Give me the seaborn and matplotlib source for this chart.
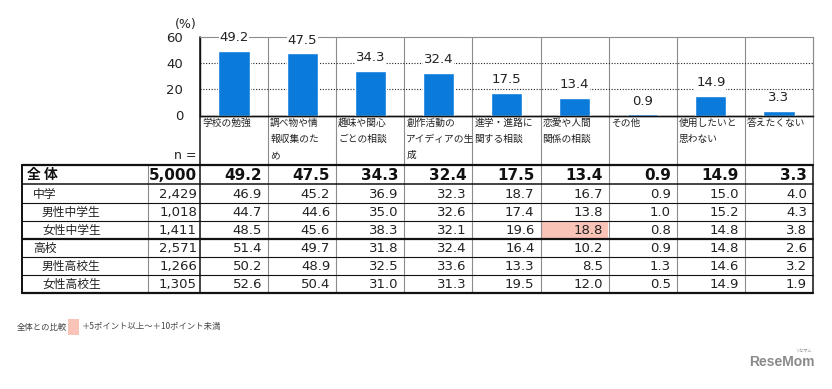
import numpy as np
import pandas as pd

import matplotlib
matplotlib.use("Agg")
import matplotlib.pyplot as plt
import seaborn as sns

# ---- data ----
categories = ["学校の勉強", "調べ物や情\n報収集のた\nめ", "趣味や関心\nごとの相談",
              "創作活動の\nアイディアの生\n成", "進学・進路に\n関する相談", "恋愛や人間\n関係の相談",
              "その他", "使用したいと\n思わない", "答えたくない"]
overall = [49.2, 47.5, 34.3, 32.4, 17.5, 13.4, 0.9, 14.9, 3.3]
overall_n = "5,000"

group_labels = ["中学", "男性中学生", "女性中学生", "高校", "男性高校生", "女性高校生"]
group_indent = [1, 2, 2, 1, 2, 2]
group_n = ["2,429", "1,018", "1,411", "2,571", "1,266", "1,305"]
group_values = [
    [46.9, 45.2, 36.9, 32.3, 18.7, 16.7, 0.9, 15.0, 4.0],
    [44.7, 44.6, 35.0, 32.6, 17.4, 13.8, 1.0, 15.2, 4.3],
    [48.5, 45.6, 38.3, 32.1, 19.6, 18.8, 0.8, 14.8, 3.8],
    [51.4, 49.7, 31.8, 32.4, 16.4, 10.2, 0.9, 14.8, 2.6],
    [50.2, 48.9, 32.5, 33.6, 13.3, 8.5, 1.3, 14.6, 3.2],
    [52.6, 50.4, 31.0, 31.3, 19.5, 12.0, 0.5, 14.9, 1.9],
]
yticks = [0, 20, 40, 60]

BLUE = "#0a7bdb"
PINK = "#f9c3b8"
JP = ["Noto Sans CJK JP"]

sns.set_theme(style="white")
plt.rcParams["font.family"] = ["DejaVu Sans", "Noto Sans CJK JP"]

W, H = 832, 389
fig = plt.figure(figsize=(W / 100, H / 100), dpi=100)

# layout in pixels
x_tab, x_lab, x_n, x_end = 22, 148, 200, 813
colw = (x_end - x_n) / len(categories)
col_left = [x_n + i * colw for i in range(len(categories))]
y_top, y_base, y_tab = 37, 115.5, 165
row_lines = [165, 184, 203, 221, 239, 257, 275, 293]

# overlay axes in pixel coordinates for the table
ov = fig.add_axes([0, 0, 1, 1])
ov.set_xlim(0, W)
ov.set_ylim(H, 0)
ov.axis("off")

# vertical separators
for xl in col_left[1:]:
    ov.plot([xl, xl], [y_top, row_lines[-1]], color="#8c8c8c", lw=0.8, zorder=1)
ov.plot([x_end, x_end], [y_top, y_tab], color="#8c8c8c", lw=0.8)
ov.plot([x_end, x_end], [y_tab, row_lines[-1]], color="#222222", lw=1.2)
ov.plot([x_n, x_n], [y_top, row_lines[-1]], color="#111111", lw=1.1)
ov.plot([x_lab, x_lab], [y_tab, row_lines[-1]], color="#8c8c8c", lw=0.8)
ov.plot([x_tab, x_tab], [y_tab, row_lines[-1]], color="#111111", lw=1.4)
ov.plot([x_n, x_end], [y_base, y_base], color="#111111", lw=1.0)

# highlight cells (+5 to +10 points vs overall)
for r, vals in enumerate(group_values):
    for c, v in enumerate(vals):
        d = v - overall[c]
        if 5 <= d < 10:
            ov.add_patch(plt.Rectangle((col_left[c] + 0.5, row_lines[r + 1]),
                                       colw - 1, row_lines[r + 2] - row_lines[r + 1],
                                       color=PINK, lw=0, zorder=0))

# horizontal lines
thick = {0, 4, 7}
for i, yl in enumerate(row_lines):
    lw = 1.6 if i in thick else (1.1 if i == 1 else 0.8)
    ov.plot([x_tab, x_end], [yl, yl], color="#111111", lw=lw)

# category labels
for xl, lab in zip(col_left, categories):
    ov.text(xl + 2, 118, lab, ha="left", va="top", fontsize=7, color="#222222",
            linespacing=1.75, family=JP)
ov.text(x_n - 3, 155, "n =", ha="right", va="center", fontsize=9, color="#222222")
ov.text(186, 24, "(%)", ha="center", va="center", fontsize=9, color="#222222")

# table rows
def cy(i):
    return (row_lines[i] + row_lines[i + 1]) / 2 + 0.5

ov.text(x_tab + 5, cy(0), "全 体", ha="left", va="center", fontsize=10,
        fontweight="bold", family=JP, color="#111111")
ov.text(x_n - 3, cy(0), overall_n, ha="right", va="center", fontsize=11,
        fontweight="bold", color="#111111")
for c, v in enumerate(overall):
    ov.text(col_left[c] + colw - 6, cy(0), f"{v:.1f}", ha="right", va="center",
            fontsize=11, fontweight="bold", color="#111111")

for r, (lab, ind, n, vals) in enumerate(zip(group_labels, group_indent, group_n, group_values)):
    ov.text(x_tab + 2 + ind * 9, cy(r + 1), lab, ha="left", va="center", fontsize=8.5,
            family=JP, color="#222222")
    ov.text(x_n - 3, cy(r + 1), n, ha="right", va="center", fontsize=9.5, color="#222222")
    for c, v in enumerate(vals):
        ov.text(col_left[c] + colw - 6, cy(r + 1), f"{v:.1f}", ha="right", va="center",
                fontsize=9.5, color="#222222")

# legend note
ov.text(17, 327, "全体との比較", ha="left", va="center", fontsize=6,
        family=JP, color="#444444")
ov.add_patch(plt.Rectangle((68, 319), 11, 16, color=PINK, lw=0))
ov.text(82, 327, "＋5ポイント以上～＋10ポイント未満", ha="left", va="center", fontsize=6,
        family=JP, color="#444444")

# watermark
ov.text(815, 362, "ReseMom", ha="right", va="center", fontsize=10, fontweight="bold",
        family=["Liberation Sans"], color="#8a8a8a")
ov.text(812, 351, "リセマム", ha="right", va="center", fontsize=3,
        family=JP, color="#8a8a8a")

# ---- bar chart ----
ax = fig.add_axes([x_n / W, 1 - y_base / H, (x_end - x_n) / W, (y_base - y_top) / H])
ax.patch.set_alpha(0)
df = pd.DataFrame({"cat": categories, "val": overall})
sns.barplot(data=df, x="cat", y="val", color=BLUE, width=0.46, saturation=1, ax=ax)
ax.set_xlim(-0.5, len(categories) - 0.5)
ax.set_ylim(yticks[0], yticks[-1])
ax.set_xticks([])
ax.set_yticks(yticks)
ax.set_yticklabels([str(t) for t in yticks], fontsize=9.5, color="#222222")
ax.tick_params(axis="y", length=0, pad=12)
ax.set_xlabel("")
ax.set_ylabel("")
for t in yticks[1:-1]:
    ax.axhline(t, color="#222222", lw=0.8, ls=(0, (1, 1.5)), zorder=0.5)
for side in ["top", "right"]:
    ax.spines[side].set_color("#8c8c8c")
    ax.spines[side].set_linewidth(0.8)
for side in ["left", "bottom"]:
    ax.spines[side].set_color("#111111")
    ax.spines[side].set_linewidth(1.0)
for i, v in enumerate(overall):
    ax.annotate(f"{v:.1f}", (i, v), xytext=(0, 9.5), textcoords="offset points",
                ha="center", va="center", fontsize=9.5, color="#222222",
                bbox=dict(fc="white", ec="none", pad=0.5), annotation_clip=False, zorder=5)

fig.savefig("out.png", dpi=100)
plt.close(fig)
